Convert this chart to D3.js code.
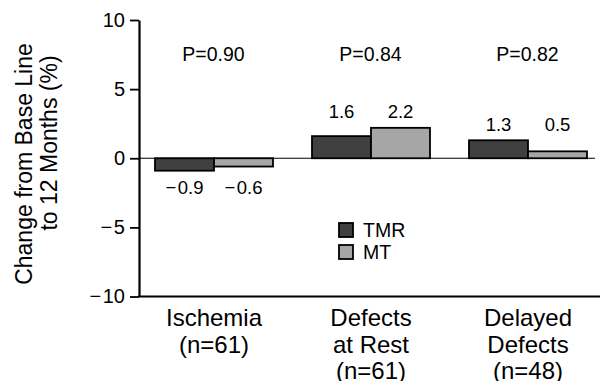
<!DOCTYPE html>
<html>
<head>
<meta charset="UTF-8">
<title>TMR vs MT</title>
<script src="https://d3js.org/d3.v7.min.js"></script>
<style>
  body { margin: 0; background: #fff; }
  svg { font-family: "Liberation Sans", Arial, Helvetica, sans-serif; }
  .axis path, .axis line { stroke: #000; }
</style>
</head>
<body>
<svg id="chart" width="602" height="381"></svg>
<script>
// ===== DATA =====
var categories = ["Ischemia", "Defects at Rest", "Delayed Defects"];
var categoryLines = [["Ischemia", "(n=61)"], ["Defects", "at Rest", "(n=61)"], ["Delayed", "Defects", "(n=48)"]];
var series = ["TMR", "MT"];
var tmrValues = [-0.9, 1.6, 1.3];
var mtValues = [-0.6, 2.2, 0.5];
var pLabels = ["P=0.90", "P=0.84", "P=0.82"];
var yTicks = [-10, -5, 0, 5, 10];
var colors = {TMR: "#404040", MT: "#a6a6a6"};

var rows = categories.map(function(c, i) {
  return {cat: c, lines: categoryLines[i], p: pLabels[i], TMR: tmrValues[i], MT: mtValues[i]};
});

// ===== LAYOUT =====
var axisX = 139, axisRight = 600;
var svg = d3.select("#chart");

var y = d3.scaleLinear().domain([-10, 10]).range([296.5, 20]);
var x0 = d3.scaleBand().domain(categories).range([135.5, 606.5]).padding(0);
var x1 = d3.scaleBand().domain(series).range([19.5, 137.5]).padding(0);
// minus sign followed by a hair space, as in the figure
var fmt = function(v) { return d3.format(".1f")(v).replace("\u2212", "\u2212\u200a"); };

// ===== Y AXIS =====
var yAxis = d3.axisLeft(y).tickValues(yTicks).tickSize(9).tickSizeOuter(0).tickPadding(5)
  .tickFormat(function(d) { return d3.format("d")(d).replace("\u2212", "\u2212\u200a"); });
var gy = svg.append("g").attr("class", "axis")
  .attr("transform", "translate(" + axisX + ",0)")
  .call(yAxis);
gy.attr("font-family", null).attr("font-size", null);
gy.select(".domain").attr("stroke-width", 2.2);
gy.selectAll(".tick line").attr("stroke-width", 1.8);
gy.selectAll(".tick text").attr("font-size", 20).attr("fill", "#000");

// x axis line at bottom
svg.append("line")
  .attr("x1", axisX - 1).attr("x2", axisRight)
  .attr("y1", y(-10)).attr("y2", y(-10))
  .attr("stroke", "#000").attr("stroke-width", 2.2);

// zero line
svg.append("line")
  .attr("x1", axisX).attr("x2", 595)
  .attr("y1", y(0)).attr("y2", y(0))
  .attr("stroke", "#000").attr("stroke-width", 1.2);

// ===== BARS =====
var groups = svg.selectAll("g.grp").data(rows).enter().append("g")
  .attr("class", "grp")
  .attr("transform", function(d) { return "translate(" + x0(d.cat) + ",0)"; });

groups.selectAll("rect").data(function(d) {
    return series.map(function(s) { return {key: s, value: d[s]}; });
  })
  .enter().append("rect")
  .attr("x", function(d) { return x1(d.key); })
  .attr("width", x1.bandwidth())
  .attr("y", function(d) { return y(Math.max(0, d.value)); })
  .attr("height", function(d) { return Math.abs(y(d.value) - y(0)); })
  .attr("fill", function(d) { return colors[d.key]; })
  .attr("stroke", "#000").attr("stroke-width", 1.8);

// value labels
groups.selectAll("text.val").data(function(d) {
    var hi = Math.max(d.TMR, d.MT), lo = Math.min(d.TMR, d.MT);
    return series.map(function(s) { return {key: s, value: d[s], hi: hi, lo: lo}; });
  })
  .enter().append("text")
  .attr("class", "val")
  .attr("x", function(d) { return x1(d.key) + x1.bandwidth() / 2; })
  .attr("y", function(d) { return d.value >= 0 ? y(d.hi) - 9.5 : y(d.lo) + 23; })
  .attr("text-anchor", "middle")
  .attr("font-size", 18.5)
  .text(function(d) { return fmt(d.value); });

// P values
groups.append("text")
  .attr("x", x0.bandwidth() / 2 - 0.5)
  .attr("y", 61)
  .attr("text-anchor", "middle")
  .attr("font-size", 19.5)
  .text(function(d) { return d.p; });

// category labels
groups.append("text")
  .attr("text-anchor", "middle")
  .attr("font-size", 24)
  .selectAll("tspan").data(function(d) { return d.lines; })
  .enter().append("tspan")
  .attr("x", x0.bandwidth() / 2)
  .attr("y", function(d, i) { return 326 + i * 26.7; })
  .text(function(d) { return d; });

// ===== LEGEND =====
var legend = svg.append("g").attr("transform", "translate(339,223)");
var li = legend.selectAll("g").data(series).enter().append("g")
  .attr("transform", function(d, i) { return "translate(0," + i * 22 + ")"; });
li.append("rect").attr("width", 14).attr("height", 14)
  .attr("fill", function(d) { return colors[d]; })
  .attr("stroke", "#000").attr("stroke-width", 1.8);
li.append("text").attr("x", 24).attr("y", 14).attr("font-size", 19.5).text(function(d) { return d; });

// ===== Y TITLE =====
var title = svg.append("g").attr("font-size", 23).attr("text-anchor", "middle");
title.append("text").attr("transform", "translate(32,164) rotate(-90)").text("Change from Base Line");
title.append("text").attr("transform", "translate(57,143) rotate(-90)").text("to 12 Months (%)");
</script>
</body>
</html>
